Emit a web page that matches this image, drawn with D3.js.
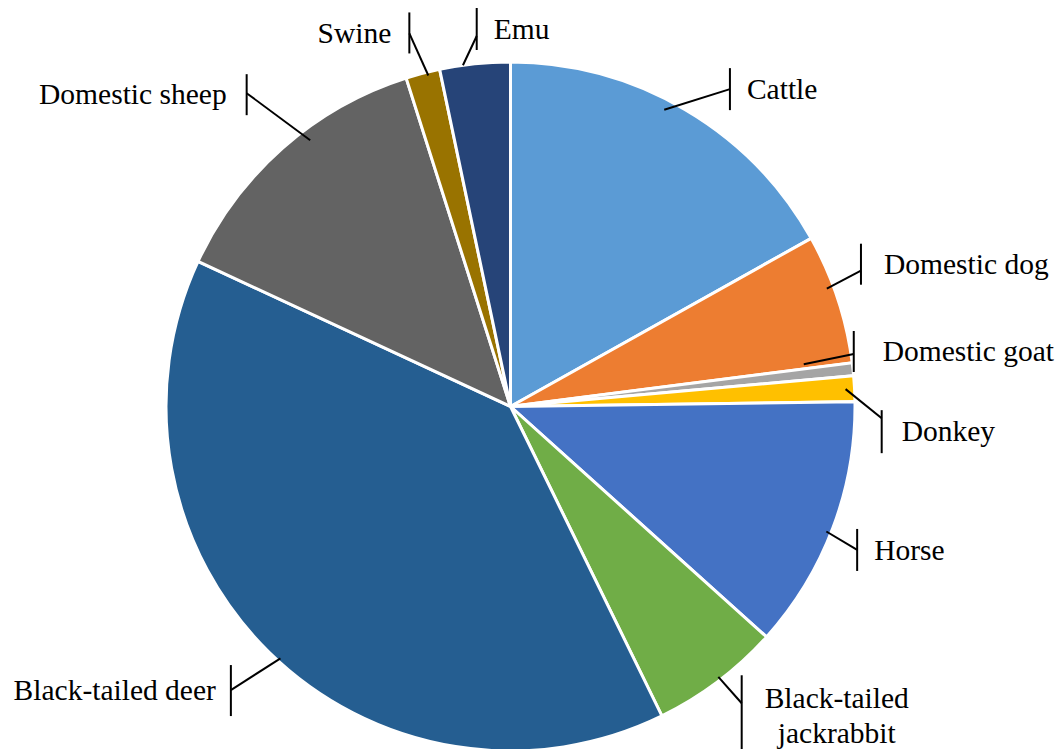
<!DOCTYPE html>
<html>
<head>
<meta charset="utf-8">
<script src="https://cdn.jsdelivr.net/npm/d3@7"></script>
<style>
  html, body { margin: 0; padding: 0; background: #ffffff; }
  svg { display: block; }
</style>
</head>
<body>
<svg id="chart" width="1060" height="749"></svg>
<script>
// Share of detections by host species (%)
const categories = ["Cattle", "Domestic dog", "Domestic goat", "Donkey", "Horse",
  "Black-tailed jackrabbit", "Black-tailed deer", "Domestic sheep", "Swine", "Emu"];
const shares = [16.9, 6.1, 0.6, 1.2, 11.9, 6.1, 39.2, 13.2, 1.6, 3.3];
const sliceColors = ["#5B9BD5", "#ED7D31", "#A5A5A5", "#FFC000", "#4472C4",
  "#70AD47", "#255E91", "#636363", "#997300", "#264478"];
// Label text, split into lines
const labelLines = [["Cattle"], ["Domestic dog"], ["Domestic goat"], ["Donkey"], ["Horse"],
  ["Black-tailed", "jackrabbit"], ["Black-tailed deer"], ["Domestic sheep"], ["Swine"], ["Emu"]];

// Callout placement: leader start (angle shift, radius factor), tick joint (polar angle, radius factor),
// tick extent above/below the joint, text side and gap
const callouts = [
  { da: -3.0, sr: 0.97, ang: 34.66, rf: 1.120, up: 21, down: 21, side: "right", gap: 17 },
  { da: -2.2, sr: 0.98, ang: 68.82, rf: 1.091, up: 27, down: 14, side: "right", gap: 23 },
  { da: -2.0, sr: 0.86, ang: 81.30, rf: 1.008, up: 23, down: 18, side: "right", gap: 29 },
  { da:  0.0, sr: 0.974, ang: 91.80, rf: 1.078, up: 8, down: 35, side: "right", gap: 20 },
  { da:  1.0, sr: 0.986, ang: 112.48, rf: 1.089, up: 21, down: 21, side: "right", gap: 17 },
  { da: -0.5, sr: 0.99, ang: 142.08, rf: 1.092, up: 28, down: 52, side: "right", gap: 23 },
  { da: -2.0, sr: 0.99, ang: 224.60, rf: 1.156, up: 25, down: 26, side: "left", gap: 15 },
  { da:  4.4, sr: 0.967, ang: 319.90, rf: 1.189, up: 19, down: 22, side: "left", gap: 20 },
  { da:  0.8, sr: 0.99, ang: 344.83, rf: 1.122, up: 21, down: 20, side: "left", gap: 18 },
  { da: -2.0, sr: 1.0, ang: 354.79, rf: 1.080, up: 28, down: 14, side: "right", gap: 17 }
];

const svg = d3.select("#chart");
const cx = 510.5, cy = 406.5, radius = 344.5;
const fontSize = 29.5, lineGap = 35;
const serif = "'Liberation Serif', 'Times New Roman', 'DejaVu Serif', serif";

const data = categories.map((c, i) => ({ name: c, value: shares[i], color: sliceColors[i],
  lines: labelLines[i], callout: callouts[i] }));

const pie = d3.pie().sort(null).value(d => d.value);
const arc = d3.arc().innerRadius(0).outerRadius(radius);
const arcs = pie(data);

const g = svg.append("g").attr("transform", `translate(${cx},${cy})`);

g.selectAll("path.slice")
  .data(arcs)
  .join("path")
  .attr("class", "slice")
  .attr("d", arc)
  .attr("fill", d => d.data.color)
  .attr("stroke", "#ffffff")
  .attr("stroke-width", 3)
  .attr("stroke-linejoin", "miter");

const polar = (deg, r) => {
  const a = deg * Math.PI / 180;
  return [r * Math.sin(a), -r * Math.cos(a)];
};

const callG = g.append("g");
arcs.forEach(d => {
  const c = d.data.callout;
  const mid = (d.startAngle + d.endAngle) / 2 * 180 / Math.PI;
  const start = polar(mid + c.da, radius * c.sr);
  const joint = polar(c.ang, radius * c.rf);

  callG.append("line")
    .attr("x1", start[0]).attr("y1", start[1])
    .attr("x2", joint[0]).attr("y2", joint[1])
    .attr("stroke", "#000").attr("stroke-width", 2);

  const top = joint[1] - c.up, bottom = joint[1] + c.down;
  callG.append("line")
    .attr("x1", joint[0]).attr("y1", top)
    .attr("x2", joint[0]).attr("y2", bottom)
    .attr("stroke", "#000").attr("stroke-width", 2);

  const midY = (top + bottom) / 2;
  const n = d.data.lines.length;
  const t = callG.append("text")
    .attr("font-family", serif)
    .attr("font-size", fontSize)
    .attr("fill", "#000");
  d.data.lines.forEach((ln, i) => {
    t.append("tspan")
      .attr("y", midY + (i - (n - 1) / 2) * lineGap)
      .attr("dy", "0.33em")
      .text(ln);
  });
  if (n > 1) {
    // centred multi-line block placed beside the tick
    let w = 0;
    t.selectAll("tspan").each(function () { w = Math.max(w, this.getComputedTextLength()); });
    const x = joint[0] + c.gap + w / 2;
    t.attr("text-anchor", "middle").selectAll("tspan").attr("x", x);
  } else if (c.side === "right") {
    t.attr("text-anchor", "start").selectAll("tspan").attr("x", joint[0] + c.gap);
  } else {
    t.attr("text-anchor", "end").selectAll("tspan").attr("x", joint[0] - c.gap);
  }
});
</script>
</body>
</html>
